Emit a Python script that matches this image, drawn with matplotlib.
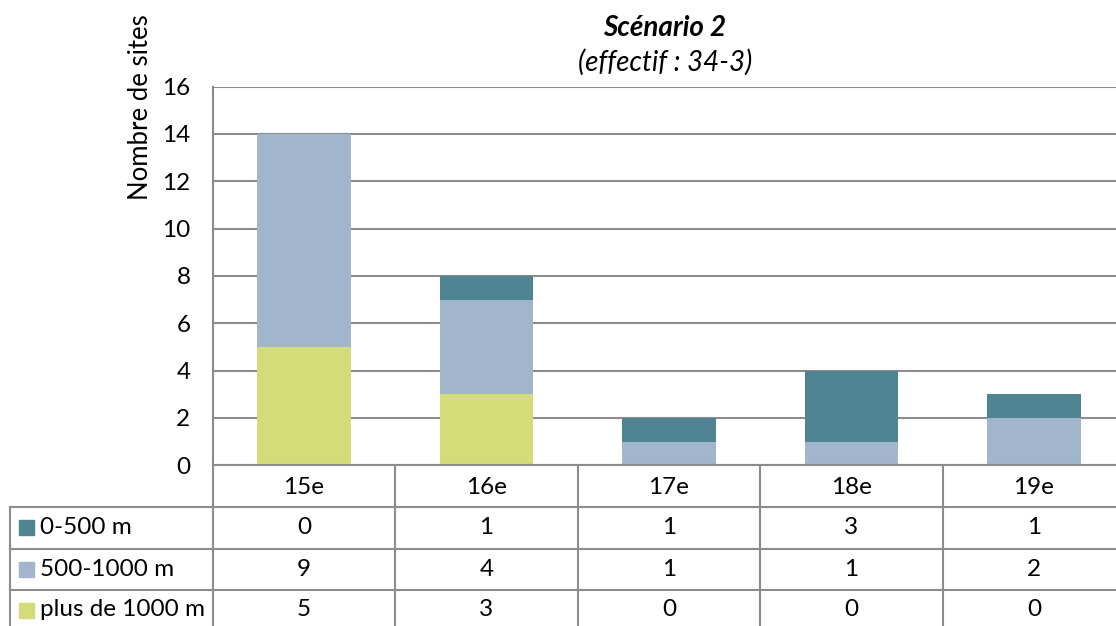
import matplotlib
matplotlib.use("Agg")
import matplotlib.pyplot as plt
from matplotlib.lines import Line2D
from matplotlib.patches import Rectangle

plt.rcParams['font.family'] = ['Lato', 'DejaVu Sans']

categories = ["15e", "16e", "17e", "18e", "19e"]
series_names = ["0-500 m", "500-1000 m", "plus de 1000 m"]
v_0_500 = [0, 1, 1, 3, 1]
v_500_1000 = [9, 4, 1, 1, 2]
v_plus_1000 = [5, 3, 0, 0, 0]
colors = ["#4F8592", "#A1B6CC", "#D4DC7A"]
yticks = [0, 2, 4, 6, 8, 10, 12, 14, 16]

W, H = 1116, 626
fig = plt.figure(figsize=(W / 100, H / 100), dpi=100)

def fx(px):
    return px / W

def fy(py):
    return 1 - py / H

FS = 17.5
ax_left, ax_right, ax_top, ax_bot = 212.7, 212.7 + 182.5 * 5, 86.6, 465.3
ax = fig.add_axes([fx(ax_left), fy(ax_bot), fx(ax_right - ax_left), (ax_bot - ax_top) / H])

x = list(range(len(categories)))
bw = 0.511
bottom = [0] * len(categories)
for vals, c in [(v_plus_1000, colors[2]), (v_500_1000, colors[1]), (v_0_500, colors[0])]:
    ax.bar(x, vals, bw, bottom=bottom, color=c, zorder=3)
    bottom = [b + v for b, v in zip(bottom, vals)]

ax.set_xlim(-0.5, len(categories) - 0.5)
ax.set_ylim(0, 16)
ax.set_yticks(yticks)
ax.set_yticklabels([str(t) for t in yticks], fontsize=FS)
ax.set_xticks([])
ax.grid(axis='y', color='#8C8C8C', linewidth=1.5, zorder=0)
for s in ['top', 'right', 'bottom']:
    ax.spines[s].set_visible(False)
ax.spines['left'].set_color('#8C8C8C')
ax.spines['left'].set_linewidth(1.5)
ax.tick_params(axis='y', length=0, pad=16)

# Title
fig.text(fx(665), fy(28), "Scénario 2", ha='center', va='center', fontsize=20,
         fontweight='bold', fontstyle='italic')
fig.text(fx(665), fy(62), "(effectif : 34-3)", ha='center', va='center', fontsize=20,
         fontstyle='italic')
fig.text(fx(140), fy(107), "Nombre de sites", ha='center', va='center', fontsize=18.5,
         rotation=90)

# Data table
lc = '#8C8C8C'
lw = 1.5
def hline(y, x0, x1):
    fig.add_artist(Line2D([fx(x0), fx(x1)], [fy(y), fy(y)], color=lc, lw=lw))

def vline(x_, y0, y1):
    fig.add_artist(Line2D([fx(x_), fx(x_)], [fy(y0), fy(y1)], color=lc, lw=lw))

hline(ax_bot, ax_left, W)
row_lines = [506.7, 548.7, 590.0]
for y in row_lines:
    hline(y, 10, W)
vline(10, 506.7, H)
for i in range(len(categories) + 1):
    vline(ax_left + 182.5 * i, ax_bot, H)

row_centers = [(506.7 + 548.7) / 2, (548.7 + 590) / 2, (590 + 626) / 2 + 2]
header_center = (ax_bot + 506.7) / 2 + 1
for i, c in enumerate(categories):
    cx = ax_left + 182.5 * (i + 0.5)
    fig.text(fx(cx), fy(header_center), c, ha='center', va='center', fontsize=FS)
    for r, vals in enumerate([v_0_500, v_500_1000, v_plus_1000]):
        fig.text(fx(cx), fy(row_centers[r]), str(vals[i]), ha='center', va='center', fontsize=FS)

for r, name in enumerate(series_names):
    cy = row_centers[r]
    sq = 15
    fig.add_artist(Rectangle((fx(19), fy(cy + sq / 2)), sq / W, sq / H, color=colors[r],
                             transform=fig.transFigure))
    fig.text(fx(40), fy(cy), name, ha='left', va='center', fontsize=FS)

fig.savefig("out.png", dpi=100)
